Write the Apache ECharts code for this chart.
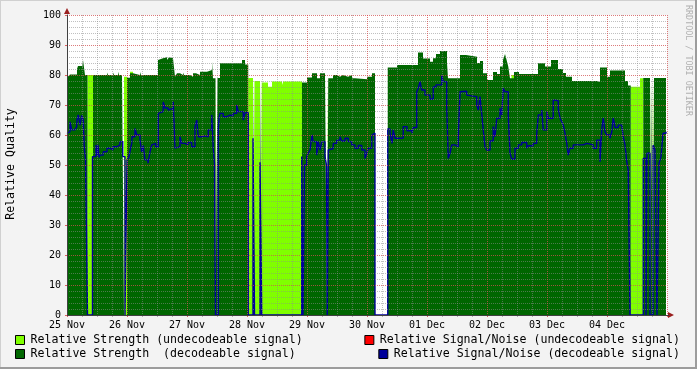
<!DOCTYPE html>
<html><head><meta charset="utf-8">
<script src="https://cdn.jsdelivr.net/npm/echarts@6/dist/echarts.min.js"></script>
<style>html,body{margin:0;padding:0;background:#f3f3f3;overflow:hidden}#c{width:697px;height:369px}</style>
</head><body><div id="c"></div>
<script>
// ---- DATA (time in hours since 25 Nov 00:00, value in %) ----
const dayLabels = ['25 Nov','26 Nov','27 Nov','28 Nov','29 Nov','30 Nov','01 Dec','02 Dec','03 Dec','04 Dec'];
const seriesNames = [
  'Relative Strength (undecodeable signal)',
  'Relative Signal/Noise (undecodeable signal)',
  'Relative Strength  (decodeable signal)',
  'Relative Signal/Noise (decodeable signal)'
];
const strengthUndecodeable = [
  [0,80.8],[0.4,0],[8.2,80],[10.4,0],[22.8,79.4],[24,0],[25.2,81.1],[26.4,0],[59.4,79.4],[60.2,0],
  [72.5,79],[74.4,0],[75.0,78],[77.2,0],[77.9,77.5],[80.4,76.1],[82,77.8],[86,76.7],[86.5,77.8],[94,0],
  [104,79.4],[104.5,0],[177.8,80],[178.8,0],[225.5,76.1],[229.2,78.9],[230.5,0],[233.2,79],[233.6,0],
  [234.4,79],[234.8,0],[239.6,0]
];
const strengthDecodeable = [
  [0,80.5],[0.4,79.5],[1.2,80.2],[4.0,82],[4.4,83],[6.0,82],[6.4,85],[7.2,80],[8.2,0],[10.4,80],
  [16,80.8],[16.4,80],[18.4,80.8],[18.8,80],[20.4,81.1],[20.8,80],[22,79.4],[22.8,0],[24,79.1],[25.2,80.6],
  [26.4,80],[29.2,81],[29.6,80],[31.2,79.5],[31.6,80],[33.2,80.6],[33.6,80],[36.4,85],[37.2,85.6],[38.4,85],
  [39.2,85.9],[40,85],[40.8,85.9],[41.6,85.6],[42.4,85],[43.2,79.4],[44,80.6],[45.2,80],[46.4,80.8],[46.8,80],
  [49.2,79.4],[50.4,80.6],[51.6,80],[53.2,81.1],[56,81.7],[58,84.4],[58.4,78.9],[59.4,0],[60.2,79],[61.2,83.9],
  [70,85],[71.2,83.5],[72.5,0],[74.4,79],[75.0,0],[77.2,78],[77.9,0],[94,77.5],[96,79.2],[98,80.6],
  [100,78.9],[101.2,80.6],[103.2,79.4],[104,0],[104.5,78.9],[106.4,80],[108,79.4],[109.2,80],[110.4,79.4],[112.4,80],
  [114,78.9],[115.2,78.6],[120,79.4],[122,80.6],[123.2,0],[128.3,82.5],[132,83.3],[140.4,87.5],[142.4,85.5],[145.2,84.4],
  [146.4,85.6],[147.6,87],[149.2,88],[152,84],[152.4,78.9],[157.2,86.7],[159.6,86.1],[164,84],[165.2,84.7],[166.4,80.6],
  [168,78.3],[170.4,81],[172,80.3],[173.2,82.8],[174.4,85],[175.2,87],[176,84.5],[176.5,82.8],[177.2,78.9],[178.8,81],
  [180.8,80.3],[188.4,83.9],[191.2,82.8],[193.6,85],[196.4,82],[198.4,80.7],[199.6,79.4],[202,78],[212,77.7],[213.2,82.5],
  [216,79.4],[217.2,81.5],[223.2,78],[224.4,76.5],[225.5,0],[230.5,79],[233.2,0],[233.6,79],[234.4,0],[234.8,79],[239.6,79]
];
const snrUndecodeable = [];
const snrDecodeable = [
  [0,60.5],[0.5,61.1],[1.2,64.4],[1.9,61.7],[3.2,62],[3.9,62.8],[4.0,65],[4.5,66.7],[5.2,63.3],[5.9,66.5],
  [6.5,65],[6.9,56.1],[7.4,52],[8.2,0],[10.2,52.8],[11.6,56.7],[12,53],[12.4,56.7],[12.8,52.5],[13.2,53.3],
  [14.5,54.4],[16,55.6],[17.2,55],[18.4,56.1],[20,56.7],[21.2,57.8],[22.3,52.8],[23.2,0],[24,51.7],[24.8,52.8],
  [25.3,55],[25.9,57.2],[26,59.4],[27.2,62.2],[27.9,60],[29.2,58.3],[29.9,54.4],[30.5,56.5],[31.2,51.7],[32.4,50.6],
  [33.2,54.4],[33.9,56.7],[34.5,57.2],[35.5,56.1],[36.5,67.2],[37.2,67.8],[38.5,71],[39.2,69],[40.5,68.3],[41.2,68.9],
  [42.5,71.1],[43.2,55.6],[43.9,56.1],[45.2,59.4],[45.9,57.2],[47.2,56.7],[48.4,57.5],[49.9,56.1],[51.2,62.8],[51.9,65],
  [52.5,59.4],[53.9,59.7],[55.2,59.4],[56.5,61.7],[57.9,66.7],[58.5,55.6],[59,50.6],[59.4,0],[60.5,61.7],[60.8,65.6],
  [61.2,67.2],[62.5,66.1],[63.9,66.6],[65.2,66.4],[66.5,67.2],[67.9,70],[68.5,67.8],[70.5,65],[71.2,67.4],[72.5,0],
  [74.4,58.9],[75.0,0],[77.2,50.9],[77.9,0],[93.9,52.8],[94.4,0],[95,50],[95.9,52.8],[96.5,54],[97.2,55],
  [98,60],[98.5,57.8],[99.9,53.3],[100.5,57.8],[101.2,55],[101.9,57.8],[103.2,52.8],[103.8,50],[104.1,0],[104.5,55],
  [105.2,55.5],[106.5,57.2],[107.9,58.3],[109.2,59.4],[109.9,58],[111.2,58.9],[112.5,57.8],[113.9,56.7],[115.2,55.6],[116.5,56.5],
  [117.9,55],[119.2,52.2],[119.9,53.9],[120.5,55.6],[121.9,60],[122.5,60.6],[123.2,0],[128.3,62],[129.2,60.6],[130,57.2],
  [130.5,61.7],[131.2,58.9],[132.4,58.5],[133.2,59],[134.5,62.8],[136,61.4],[138,60.6],[138.5,62.5],[139.9,74.4],[140.5,75.6],
  [141.2,77.8],[141.9,75],[143.2,73.3],[145.2,72],[146.5,76],[147.6,76.7],[149.9,80],[150.5,77.8],[151.9,68.9],[152.5,52.2],
  [153.2,53.9],[153.9,56.7],[155.2,56.1],[156.5,58.9],[157.2,74.4],[157.9,74.6],[159.9,73.3],[160.5,72.8],[163.9,70],[164.5,68.3],
  [165.2,72.8],[165.9,67],[166.5,61.7],[167.2,56.1],[167.9,55],[169.2,58],[170.5,62.8],[171.2,59.4],[171.9,65.6],[173.2,68.9],
  [173.9,66.7],[174.5,75.6],[175.2,74.4],[176.5,66.7],[177.2,53.9],[177.9,52],[179.2,55.6],[180.5,56.7],[181.9,57.5],[183.9,55.6],
  [184.5,56.4],[186.5,57.2],[187.9,60.6],[188.5,66.7],[189.9,68.3],[190.5,61.7],[192,67.8],[192.5,65.6],[194.5,71.7],[195.2,71.4],
  [196.5,68.9],[197.2,65.6],[197.9,64.4],[198.5,63.3],[199.2,60.6],[199.9,57.2],[200.5,53.3],[201.2,55.6],[202.5,56.7],[206.5,57.2],
  [207.9,56.7],[210.5,55.6],[211.9,58.3],[213.2,51.1],[213.9,61.7],[214.5,65.6],[215.2,61.1],[215.9,60],[217.2,58.9],[217.9,61],
  [218.5,65.6],[219.2,62.5],[220.5,63.3],[221.9,62.8],[222.5,59.4],[223.2,56.7],[223.9,51.1],[224.5,48.3],[225.2,0],[230.5,52.2],
  [231.6,0],[232,53.9],[233.2,0],[234.4,56.7],[235.2,55],[236,0],[236.8,50.6],[237.6,52.8],[238.4,60.6],[239.6,61.1]
];

// ---- CHART ----
const FONT = 'DejaVu Sans Mono';
const chart = echarts.init(document.getElementById('c'), null, {renderer: 'canvas'});
const minorGrid = {show: true, lineStyle: {color: 'rgba(140,140,140,0.55)', width: 1, type: [1, 1]}};
const majorGrid = {show: true, lineStyle: {color: 'rgba(255,40,40,0.45)', width: 1, type: [1, 1]}};
function legendAt(name, pos) {
  return Object.assign({
    data: [name], orient: 'horizontal', icon: 'rect', itemWidth: 9, itemHeight: 9, itemGap: 0, padding: 0,
    selectedMode: false,
    itemStyle: {borderColor: '#000', borderWidth: 1},
    textStyle: {fontFamily: FONT, fontSize: 11.6, color: '#000', padding: [0, 0, 0, 1]}
  }, pos);
}
const option = {
  animation: false,
  backgroundColor: '#f3f3f3',
  textStyle: {fontFamily: FONT},
  grid: {left: 67, top: 15, width: 600, height: 300, show: true, backgroundColor: '#ffffff', borderWidth: 0},
  xAxis: [
    {type: 'value', min: 0, max: 240, interval: 24, z: 10, position: 'bottom',
     axisLine: {show: true, lineStyle: {color: '#404040', width: 1}},
     axisTick: {show: false},
     axisLabel: {formatter: v => dayLabels[Math.round(v / 24)] || '', color: '#000', fontSize: 10, fontFamily: FONT, margin: 5},
     splitLine: {show: false}},
    {type: 'value', min: 0, max: 240, interval: 6, z: 5, position: 'bottom',
     axisLine: {show: false}, axisTick: {show: true, length: 2, lineStyle: {color: '#b0b0b0'}}, axisLabel: {show: false}, splitLine: minorGrid},
    {type: 'value', min: -12, max: 228, interval: 24, z: 6, position: 'bottom',
     axisLine: {show: false}, axisTick: {show: true, length: 2, lineStyle: {color: '#e06060'}}, axisLabel: {show: false}, splitLine: majorGrid}
  ],
  yAxis: [
    {type: 'value', min: 0, max: 100, interval: 10, z: 10, position: 'left',
     axisLine: {show: true, lineStyle: {color: '#404040', width: 1}},
     axisTick: {show: true, length: 2, lineStyle: {color: '#e06060'}},
     axisLabel: {color: '#000', fontSize: 10, fontFamily: FONT, margin: 6},
     splitLine: majorGrid},
    {type: 'value', min: 0, max: 100, interval: 2, z: 5, position: 'left',
     axisLine: {show: false}, axisTick: {show: false}, axisLabel: {show: false}, splitLine: minorGrid}
  ],
  legend: [
    legendAt(seriesNames[0], {left: 15, top: 334}),
    legendAt(seriesNames[2], {left: 15, top: 348}),
    legendAt(seriesNames[1], {right: 17, top: 334}),
    legendAt(seriesNames[3], {right: 17, top: 348})
  ],
  series: [
    {name: seriesNames[0], type: 'line', step: 'end', data: strengthUndecodeable, xAxisIndex: 0, yAxisIndex: 0,
     symbol: 'none', silent: true, color: '#80ff00', itemStyle: {color: '#80ff00'},
     lineStyle: {width: 0}, areaStyle: {color: '#80ff00', opacity: 1}, z: 2},
    {name: seriesNames[2], type: 'line', step: 'end', data: strengthDecodeable, xAxisIndex: 0, yAxisIndex: 0,
     symbol: 'none', silent: true, color: '#006600', itemStyle: {color: '#006600'},
     lineStyle: {width: 0}, areaStyle: {color: '#006600', opacity: 1}, z: 3},
    {name: seriesNames[1], type: 'line', step: 'end', data: snrUndecodeable, xAxisIndex: 0, yAxisIndex: 0,
     symbol: 'none', silent: true, color: '#ff0000', itemStyle: {color: '#ff0000'},
     lineStyle: {width: 1, color: '#ff0000'}, z: 4},
    {name: seriesNames[3], type: 'line', step: 'end', data: snrDecodeable, xAxisIndex: 0, yAxisIndex: 0,
     symbol: 'none', silent: true, color: '#000099', itemStyle: {color: '#000099'},
     lineStyle: {width: 1.4, color: '#000099'}, z: 4}
  ],
  graphic: [
    {type: 'rect', shape: {x: 0, y: 0, width: 697, height: 1}, style: {fill: '#d0d0d0'}, silent: true},
    {type: 'rect', shape: {x: 0, y: 0, width: 1, height: 369}, style: {fill: '#d0d0d0'}, silent: true},
    {type: 'rect', shape: {x: 695, y: 0, width: 2, height: 369}, style: {fill: '#9c9c9c'}, silent: true},
    {type: 'rect', shape: {x: 0, y: 367, width: 697, height: 2}, style: {fill: '#9c9c9c'}, silent: true},
    {type: 'polygon', shape: {points: [[64, 14], [70, 14], [67, 8]]}, style: {fill: '#9a1f1f'}, silent: true, z: 20},
    {type: 'polygon', shape: {points: [[668, 312], [668, 318], [674, 315]]}, style: {fill: '#9a1f1f'}, silent: true, z: 20},
    {type: 'rect', shape: {x: 667, y: 315, width: 2, height: 1}, style: {fill: '#404040'}, silent: true, z: 20},
    {type: 'text', x: 11, y: 164, rotation: Math.PI / 2, silent: true,
     style: {text: 'Relative Quality', font: '11.6px "DejaVu Sans Mono"', fill: '#000', align: 'center', verticalAlign: 'middle'}},
    {type: 'text', x: 688, y: 5, rotation: -Math.PI / 2, silent: true,
     style: {text: 'RRDTOOL / TOBI OETIKER', font: '8.4px "DejaVu Sans Mono"', fill: '#b0b0b0', align: 'left', verticalAlign: 'middle'}}
  ]
};
chart.setOption(option);
</script>
</body></html>
